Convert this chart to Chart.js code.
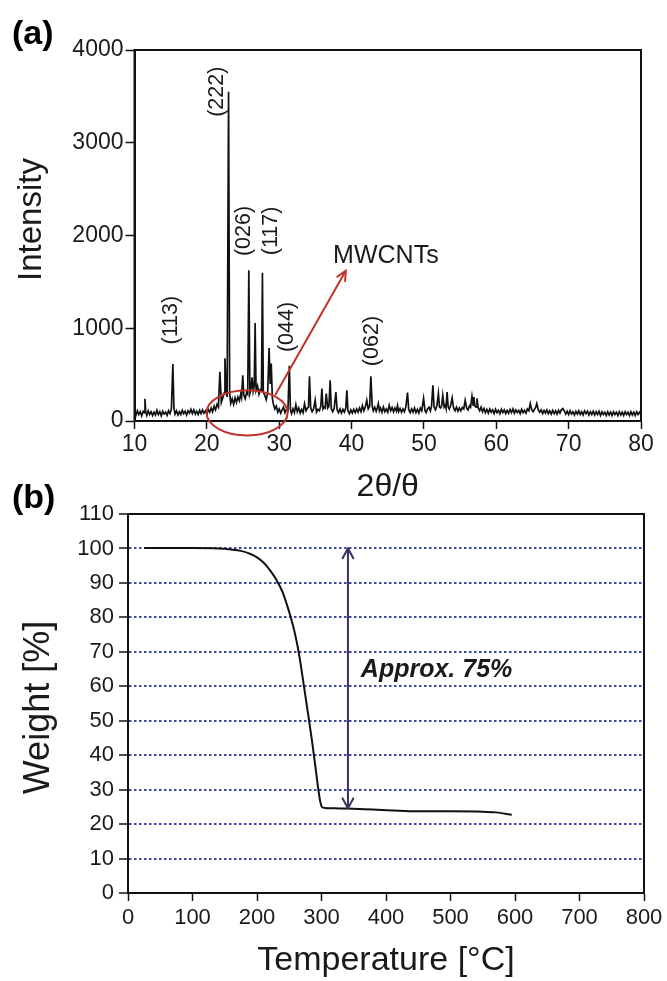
<!DOCTYPE html>
<html><head><meta charset="utf-8">
<script src="https://cdn.jsdelivr.net/npm/chart.js@4.4.1/dist/chart.umd.min.js"></script>
<style>
html,body{margin:0;padding:0;background:#fff;width:667px;height:981px;overflow:hidden;}
#c1{position:absolute;left:0;top:0;width:667px;height:510px;}
#c2{position:absolute;left:0;top:480px;width:667px;height:501px;}
.panel{position:absolute;font-family:'Liberation Sans',Arial,sans-serif;font-weight:bold;font-size:34px;line-height:1;color:#000;}
</style></head><body>
<canvas id="c1" width="667" height="510"></canvas>
<canvas id="c2" width="667" height="501"></canvas>
<div class="panel" style="left:12px;top:15px">(a)</div>
<div class="panel" style="left:12px;top:479px">(b)</div>
<script>
// ---------- (a) XRD pattern: [2θ, intensity] ----------
const xrdPoints = [
[10.0,95],[10.2,60],[10.4,110],[10.6,70],[10.8,100],[11.0,55],[11.2,105],[11.35,90],[11.45,240],[11.55,95],
[11.7,60],[11.9,110],[12.1,70],[12.3,100],[12.5,60],[12.7,95],[12.9,65],[13.1,115],[13.3,70],[13.5,100],
[13.7,55],[13.9,105],[14.1,75],[14.3,95],[14.5,60],[14.7,110],[14.9,80],[15.1,130],[15.3,615],[15.45,140],
[15.6,75],[15.8,110],[16.0,65],[16.2,100],[16.4,70],[16.6,115],[16.8,80],[17.0,105],[17.2,65],[17.4,110],
[17.6,85],[17.8,125],[18.0,80],[18.2,120],[18.4,75],[18.6,105],[18.8,70],[19.0,115],[19.2,80],[19.4,120],
[19.6,85],[19.8,110],[20.0,75],[20.2,125],[20.4,95],[20.6,140],[20.8,100],[21.0,160],[21.2,120],[21.4,180],
[21.6,150],[21.8,530],[22.0,200],[22.2,250],[22.4,300],[22.5,676],[22.65,330],[22.8,260],[23.0,3550],[23.15,300],
[23.3,190],[23.5,240],[23.7,180],[23.9,250],[24.1,200],[24.3,260],[24.5,220],[24.7,300],[24.8,260],[24.96,493],
[25.1,280],[25.3,240],[25.5,310],[25.65,290],[25.8,1626],[25.95,300],[26.1,350],[26.25,470],[26.4,320],[26.55,380],
[26.67,1057],[26.8,330],[27.0,380],[27.2,290],[27.4,340],[27.55,330],[27.68,1597],[27.8,310],[28.0,280],[28.2,230],
[28.4,300],[28.6,788],[28.75,400],[28.9,620],[29.05,250],[29.2,180],[29.4,130],[29.6,160],[29.8,95],[30.0,130],
[30.2,85],[30.4,120],[30.6,150],[30.8,90],[31.0,125],[31.2,110],[31.4,595],[31.55,120],[31.7,80],[31.9,130],
[32.1,90],[32.3,175],[32.5,100],[32.7,140],[32.9,85],[33.1,125],[33.3,90],[33.5,185],[33.7,110],[33.9,140],
[34.05,150],[34.18,482],[34.35,140],[34.55,100],[34.75,130],[34.97,225],[35.15,95],[35.35,125],[35.55,110],[35.75,160],
[35.9,350],[36.05,130],[36.2,150],[36.35,140],[36.5,295],[36.7,140],[36.87,160],[37.04,440],[37.2,130],[37.4,100],
[37.6,140],[37.83,313],[38.0,120],[38.2,90],[38.4,130],[38.6,85],[38.8,125],[39.0,95],[39.2,140],[39.35,331],
[39.5,110],[39.7,80],[39.9,120],[40.1,85],[40.3,125],[40.5,90],[40.7,130],[40.9,95],[41.1,140],[41.3,100],
[41.5,165],[41.7,110],[41.9,150],[42.1,223],[42.3,130],[42.5,160],[42.67,482],[42.85,160],[43.0,110],[43.2,150],
[43.4,105],[43.55,140],[43.7,187],[43.85,110],[44.0,140],[44.2,95],[44.4,150],[44.6,100],[44.8,130],[45.0,95],
[45.2,170],[45.4,110],[45.6,145],[45.8,100],[46.0,140],[46.2,105],[46.35,165],[46.5,100],[46.7,135],[46.9,95],
[47.1,130],[47.3,100],[47.5,150],[47.73,306],[47.9,120],[48.1,90],[48.3,130],[48.5,95],[48.7,140],[48.9,90],
[49.1,125],[49.3,85],[49.5,140],[49.7,110],[49.95,245],[50.15,110],[50.3,90],[50.5,130],[50.7,150],[50.9,110],
[51.05,160],[51.24,385],[51.4,150],[51.6,120],[51.8,170],[52.0,295],[52.15,150],[52.3,140],[52.45,160],[52.6,277],
[52.8,150],[52.95,170],[53.05,140],[53.2,313],[53.35,150],[53.5,130],[53.7,170],[53.9,250],[54.1,140],[54.3,110],
[54.5,150],[54.7,105],[54.9,140],[55.1,110],[55.3,145],[55.5,130],[55.7,223],[55.9,140],[56.1,120],[56.3,165],
[56.45,150],[56.64,266],[56.8,170],[56.9,259],[57.05,160],[57.2,150],[57.33,245],[57.5,140],[57.7,110],[57.9,150],
[58.1,100],[58.3,135],[58.5,90],[58.7,125],[58.9,85],[59.1,130],[59.3,95],[59.5,120],[59.7,80],[59.9,125],
[60.1,90],[60.3,115],[60.5,80],[60.7,125],[60.9,90],[61.1,120],[61.3,80],[61.5,115],[61.7,85],[61.9,125],
[62.1,90],[62.3,130],[62.5,85],[62.7,120],[62.9,90],[63.1,115],[63.3,80],[63.5,125],[63.7,90],[63.9,115],
[64.1,85],[64.3,130],[64.5,110],[64.7,188],[64.9,120],[65.1,100],[65.3,130],[65.45,150],[65.6,188],[65.8,120],
[66.0,95],[66.2,120],[66.4,80],[66.6,115],[66.8,85],[67.0,120],[67.2,80],[67.4,110],[67.6,75],[67.8,115],
[68.0,80],[68.2,110],[68.4,75],[68.6,115],[68.8,85],[69.0,120],[69.2,135],[69.4,110],[69.6,75],[69.8,105],
[70.0,70],[70.2,110],[70.4,75],[70.6,100],[70.8,65],[71.0,105],[71.2,75],[71.4,110],[71.6,70],[71.8,100],
[72.0,65],[72.2,110],[72.4,80],[72.6,105],[72.8,65],[73.0,100],[73.2,70],[73.4,105],[73.6,65],[73.8,100],
[74.0,70],[74.2,105],[74.4,60],[74.6,100],[74.8,70],[75.0,95],[75.2,60],[75.4,100],[75.6,65],[75.8,95],
[76.0,60],[76.2,100],[76.4,70],[76.6,95],[76.8,60],[77.0,100],[77.2,65],[77.4,95],[77.6,60],[77.8,100],
[78.0,70],[78.2,95],[78.4,60],[78.6,100],[78.8,65],[79.0,95],[79.2,60],[79.4,100],[79.6,70],[79.8,95],
[80.0,80]
];
const peakLabels = ['(113)','(222)','(026)','(117)','(044)','(062)'];
const peakLabelAngle = [15.02, 21.48, 25.17, 28.81, 31.05, 42.81];
const peakLabelIntensity = [1087, 3550, 2049, 2049, 1014, 862];
const xrdTicksX = [10,20,30,40,50,60,70,80];
const xrdTicksY = [0,1000,2000,3000,4000];
const xrdTitleX = '2θ/θ';
const xrdTitleY = 'Intensity';
// MWCNT hump marker (data coords)
const mwcntCenter = [25.56, 88];
const mwcntRadius = [5.6, 243];
const mwcntArrowFrom = [29.43, 277];
const mwcntArrowTo = [39.2, 1619];
const mwcntText = 'MWCNTs';
const mwcntTextAt = [37.45, 1702];

// ---------- (b) TGA curve ----------
const tgaTemp   = [25, 50, 100, 140, 160, 175, 190, 200, 210, 220, 230, 240, 250, 255, 260, 265, 270, 275, 280, 285, 290, 295, 298, 301, 305, 320, 340, 380, 420, 450, 500, 550, 570, 585, 595];
const tgaWeight = [100.1, 100.1, 100.1, 100.0, 99.7, 99.3, 98.4, 97.4, 95.9, 93.7, 90.9, 87.2, 81.5, 78.2, 74.3, 69.5, 63.5, 57.2, 51, 44.5, 37.5, 30.2, 26.6, 24.9, 24.7, 24.6, 24.5, 24.2, 23.9, 23.7, 23.7, 23.6, 23.4, 23.0, 22.7];
const tgaTicksX = [0,100,200,300,400,500,600,700,800];
const tgaTicksY = [0,10,20,30,40,50,60,70,80,90,100,110];
const tgaTitleX = 'Temperature [°C]';
const tgaTitleY = 'Weight [%]';
const lossArrowTemp = 341;
const lossArrowRange = [100, 24.6];
const lossText = 'Approx. 75%';
const lossTextAt = [361, 64.8];

const FONT = "'Liberation Sans',Arial,sans-serif";
Chart.defaults.font.family = FONT;
Chart.defaults.color = '#1a1a1a';
const plain = v => String(v);

function arrowHead(ctx, x0, y0, x1, y1, size, spread) {
  const ang = Math.atan2(y1 - y0, x1 - x0);
  ctx.beginPath();
  ctx.moveTo(x1 - size * Math.cos(ang - spread), y1 - size * Math.sin(ang - spread));
  ctx.lineTo(x1, y1);
  ctx.lineTo(x1 - size * Math.cos(ang + spread), y1 - size * Math.sin(ang + spread));
  ctx.stroke();
}
function verticalTitle(ctx, text, x, y, size) {
  ctx.save();
  ctx.translate(x, y);
  ctx.rotate(-Math.PI / 2);
  ctx.font = size + 'px ' + FONT;
  ctx.fillStyle = '#1a1a1a';
  ctx.textAlign = 'center'; ctx.textBaseline = 'middle';
  ctx.fillText(text, 0, 0);
  ctx.restore();
}

const xrdAnnot = {
  id: 'xrdAnnot',
  afterDatasetsDraw(chart) {
    const {ctx, chartArea: a} = chart;
    const sx = chart.scales.x, sy = chart.scales.y;
    ctx.save();
    ctx.strokeStyle = '#111'; ctx.lineWidth = 2;
    ctx.strokeRect(a.left, a.top, a.right - a.left, a.bottom - a.top);
    verticalTitle(ctx, xrdTitleY, 32, (a.top + a.bottom) / 2 - 16, 33);
    ctx.fillStyle = '#1a1a1a';
    ctx.font = '21.5px ' + FONT;
    ctx.textAlign = 'center'; ctx.textBaseline = 'middle';
    peakLabels.forEach((t, i) => {
      ctx.save();
      ctx.translate(sx.getPixelForValue(peakLabelAngle[i]), sy.getPixelForValue(peakLabelIntensity[i]));
      ctx.rotate(-Math.PI / 2);
      ctx.fillText(t, 0, 0);
      ctx.restore();
    });
    const cx = sx.getPixelForValue(mwcntCenter[0]), cy = sy.getPixelForValue(mwcntCenter[1]);
    const rx = sx.getPixelForValue(mwcntCenter[0] + mwcntRadius[0]) - cx;
    const ry = cy - sy.getPixelForValue(mwcntCenter[1] + mwcntRadius[1]);
    ctx.strokeStyle = '#c0322b'; ctx.lineWidth = 2;
    ctx.beginPath(); ctx.ellipse(cx, cy, rx, ry, 0, 0, Math.PI * 2); ctx.stroke();
    const x0 = sx.getPixelForValue(mwcntArrowFrom[0]), y0 = sy.getPixelForValue(mwcntArrowFrom[1]);
    const x1 = sx.getPixelForValue(mwcntArrowTo[0]), y1 = sy.getPixelForValue(mwcntArrowTo[1]);
    ctx.beginPath(); ctx.moveTo(x0, y0); ctx.lineTo(x1, y1); ctx.stroke();
    arrowHead(ctx, x0, y0, x1, y1, 11, 0.45);
    ctx.fillStyle = '#1a1a1a';
    ctx.font = '25px ' + FONT;
    ctx.textAlign = 'left'; ctx.textBaseline = 'alphabetic';
    ctx.fillText(mwcntText, sx.getPixelForValue(mwcntTextAt[0]), sy.getPixelForValue(mwcntTextAt[1]));
    ctx.restore();
  }
};

const tgaAnnot = {
  id: 'tgaAnnot',
  afterDatasetsDraw(chart) {
    const {ctx, chartArea: a} = chart;
    const sx = chart.scales.x, sy = chart.scales.y;
    ctx.save();
    ctx.strokeStyle = '#111'; ctx.lineWidth = 2;
    ctx.strokeRect(a.left, a.top, a.right - a.left, a.bottom - a.top);
    verticalTitle(ctx, tgaTitleY, 39, (a.top + a.bottom) / 2 + 4, 36);
    const ax = sx.getPixelForValue(lossArrowTemp);
    const ay0 = sy.getPixelForValue(lossArrowRange[0]), ay1 = sy.getPixelForValue(lossArrowRange[1]);
    ctx.strokeStyle = '#3b2f5e'; ctx.lineWidth = 2;
    ctx.beginPath(); ctx.moveTo(ax, ay0); ctx.lineTo(ax, ay1); ctx.stroke();
    arrowHead(ctx, ax, ay1, ax, ay0, 12, 0.5);
    arrowHead(ctx, ax, ay0, ax, ay1, 12, 0.5);
    ctx.fillStyle = '#1a1a1a';
    ctx.font = 'italic bold 25px ' + FONT;
    ctx.textAlign = 'left'; ctx.textBaseline = 'middle';
    ctx.fillText(lossText, sx.getPixelForValue(lossTextAt[0]), sy.getPixelForValue(lossTextAt[1]));
    ctx.restore();
  }
};

new Chart(document.getElementById('c1'), {
  type: 'scatter',
  data: { datasets: [{
    data: xrdPoints.map(p => ({x: p[0], y: p[1]})),
    showLine: true, borderColor: '#111', borderWidth: 1.7, pointRadius: 0, tension: 0
  }]},
  options: {
    responsive: false, animation: false, devicePixelRatio: 1,
    layout: { padding: { top: 50, right: 26, left: 0, bottom: 0 } },
    plugins: { legend: { display: false }, tooltip: { enabled: false } },
    scales: {
      x: {
        type: 'linear', min: 10, max: 80,
        afterFit: s => { s.height = 89; },
        afterBuildTicks: s => { s.ticks = xrdTicksX.map(v => ({value: v})); },
        ticks: { font: { size: 23 }, padding: 2, maxRotation: 0, color: '#1a1a1a', callback: plain },
        grid: { drawOnChartArea: false, tickLength: 8, tickColor: '#111', tickWidth: 1.5 },
        border: { display: true, color: '#111', width: 2 },
        title: { display: true, text: xrdTitleX, font: { size: 32, lineHeight: 1 }, padding: { top: 0, bottom: 7 }, color: '#1a1a1a' }
      },
      y: {
        min: 0, max: 4000,
        afterFit: s => { s.width = 134.5; },
        afterBuildTicks: s => { s.ticks = xrdTicksY.map(v => ({value: v})); },
        ticks: { font: { size: 23 }, padding: 2, color: '#1a1a1a', callback: plain },
        grid: { drawOnChartArea: false, tickLength: 9, tickColor: '#111', tickWidth: 1.5 },
        border: { display: true, color: '#111', width: 2 }
      }
    }
  },
  plugins: [xrdAnnot]
});

new Chart(document.getElementById('c2'), {
  type: 'scatter',
  data: { datasets: [{
    data: tgaTemp.map((t, i) => ({x: t, y: tgaWeight[i]})),
    showLine: true, borderColor: '#111', borderWidth: 2, pointRadius: 0, cubicInterpolationMode: 'monotone'
  }]},
  options: {
    responsive: false, animation: false, devicePixelRatio: 1,
    layout: { padding: { top: 34, right: 23, left: 0, bottom: 0 } },
    plugins: { legend: { display: false }, tooltip: { enabled: false } },
    scales: {
      x: {
        type: 'linear', min: 0, max: 800,
        afterFit: s => { s.height = 88; },
        afterBuildTicks: s => { s.ticks = tgaTicksX.map(v => ({value: v})); },
        ticks: { font: { size: 22 }, padding: 4, maxRotation: 0, color: '#1a1a1a', callback: plain },
        grid: { drawOnChartArea: false, tickLength: 8, tickColor: '#111', tickWidth: 1.5 },
        border: { display: true, color: '#111', width: 2 },
        title: { display: true, text: tgaTitleX, font: { size: 34, lineHeight: 1 }, padding: { top: 0, bottom: 3 }, color: '#1a1a1a' }
      },
      y: {
        min: 0, max: 110,
        afterFit: s => { s.width = 128; },
        afterBuildTicks: s => { s.ticks = tgaTicksY.map(v => ({value: v})); },
        ticks: { font: { size: 22 }, padding: 5, color: '#1a1a1a', callback: plain },
        grid: {
          color: c => (c.tick && (c.tick.value === 0 || c.tick.value === 110)) ? 'rgba(0,0,0,0)' : '#3f46a6',
          lineWidth: 2,
          tickLength: 9, tickColor: '#111', tickWidth: 1.5, tickBorderDash: []
        },
        border: { display: true, color: '#111', width: 2, dash: [2.5, 2.5] }
      }
    }
  },
  plugins: [tgaAnnot]
});
</script>
</body></html>
